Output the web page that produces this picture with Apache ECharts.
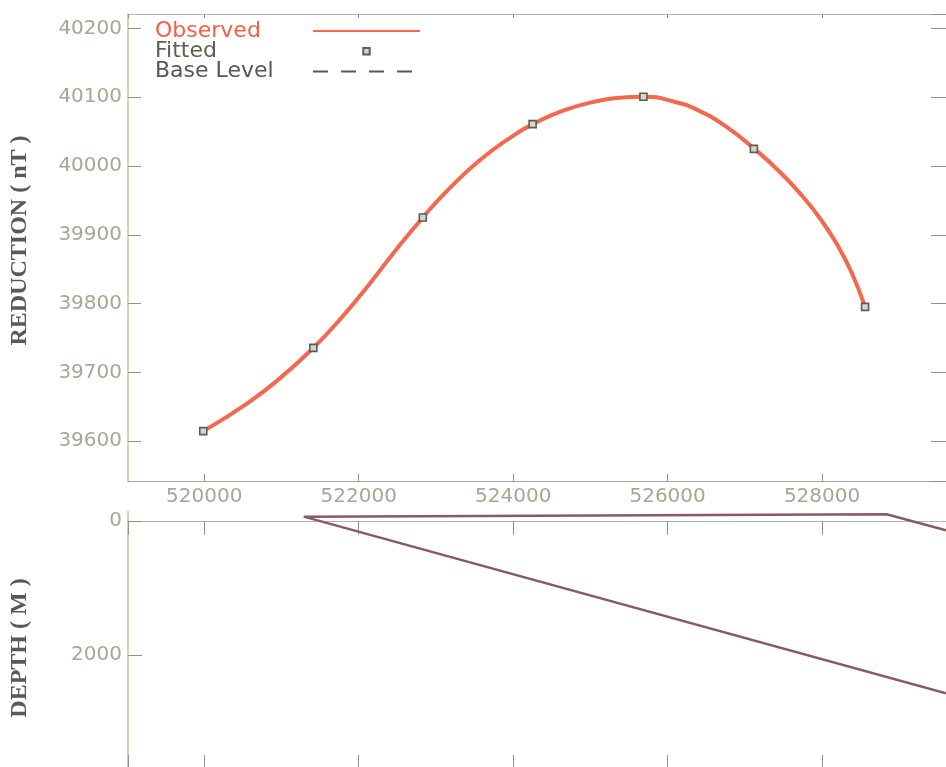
<!DOCTYPE html>
<html>
<head>
<meta charset="utf-8">
<script src="https://cdn.jsdelivr.net/npm/echarts@6/dist/echarts.min.js"></script>
<style>
  html, body { margin: 0; padding: 0; background: #fff; }
  #main { width: 946px; height: 767px; }
</style>
</head>
<body>
<div id="main"></div>
<script>
// observed anomaly
var observedX = [519987, 520567, 520996, 521412, 521769, 522113, 522456, 522830, 523144,
                 523574, 524003, 524253, 524647, 525077, 525378, 525687, 526065, 526409,
                 526753, 527118, 527440, 527740, 527998, 528213, 528384, 528557];
var observedY = [39614.5, 39655.7, 39693.0, 39735.6, 39778.4, 39824.9, 39874.3, 39925.2, 39963.9,
                 40009.0, 40044.3, 40060.9, 40080.5, 40094.2, 40099.2, 40100.7, 40094.2, 40080.2,
                 40057.7, 40025.5, 39992.8, 39956.9, 39920.0, 39882.3, 39844.7, 39795.2];

// fitted values (square markers)
var fittedX = [519987, 521412, 522830, 524252, 525687, 527117, 528557];
var fittedY = [39614.5, 39735.6, 39925.2, 40060.9, 40100.6, 40024.9, 39795.2];

// base level: listed in legend, no visible trace in this window
var baseLevel = [];

// body outline in the depth section
var bodyX = [529605, 528835, 521289, 529605];
var bodyDepth = [139, -99, -63, 2572];

var xMin = 519012, xMax = 529605;
var redMin = 39542, redMax = 40221;
var depthMin = -147, depthMax = 3670;

function pairs(xs, ys) {
    var out = [];
    for (var i = 0; i < xs.length; i++) out.push([xs[i], ys[i]]);
    return out;
}

function plain(v) {
    return String(v);
}

var chartDom = document.getElementById('main');
var myChart = echarts.init(chartDom, null, { renderer: 'canvas' });

var tickFont = { fontFamily: 'DejaVu Sans', fontSize: 20, color: '#a9a698', formatter: plain };
var legendKey = { 'Observed': 'obs', 'Fitted': 'fit', 'Base Level': 'base' };

function nameFont(pad) {
    return { fontFamily: 'Liberation Serif', fontWeight: 'bold', fontSize: 24, color: '#5a5858', padding: pad };
}

function richItem(color) {
    return { fontFamily: 'DejaVu Sans', fontSize: 22, lineHeight: 20, width: 153, align: 'left', color: color };
}

var option = {
    backgroundColor: '#ffffff',
    animation: false,
    grid: [
        { left: 126, top: 14, width: 822, height: 467 },
        { left: 126, top: 511, width: 822, height: 259 }
    ],
    legend: {
        orient: 'vertical',
        left: 155,
        top: 20,
        padding: 0,
        itemGap: -1.7,
        align: 'right',
        itemWidth: 107,
        itemHeight: 8,
        data: [
            { name: 'Observed', itemStyle: { opacity: 0 }, lineStyle: { width: 2 } },
            { name: 'Fitted' },
            { name: 'Base Level', itemStyle: { opacity: 0 } }
        ],
        formatter: function (name) {
            return '{' + legendKey[name] + '|' + name + '}';
        },
        textStyle: {
            fontFamily: 'DejaVu Sans',
            fontSize: 22,
            lineHeight: 20,
            rich: {
                obs: richItem('#f4604a'),
                fit: richItem('#5c6152'),
                base: richItem('#595558')
            }
        }
    },
    xAxis: [
        {
            type: 'value', gridIndex: 0, position: 'bottom', min: xMin, max: xMax,
            axisLine: { show: true, lineStyle: { color: '#a4a4a4', width: 1 } },
            axisTick: { show: true, inside: true, length: 7, lineStyle: { color: '#909090' } },
            axisLabel: Object.assign({ margin: 6, showMinLabel: false, showMaxLabel: false }, tickFont),
            splitLine: { show: false }
        },
        {
            type: 'value', gridIndex: 0, position: 'top', min: xMin, max: xMax,
            axisLine: { show: true, lineStyle: { color: '#b4b4b4', width: 1 } },
            axisTick: { show: true, inside: true, length: 4, lineStyle: { color: '#909090' } },
            axisLabel: { show: false },
            splitLine: { show: false }
        },
        {
            type: 'value', gridIndex: 1, position: 'top', min: xMin, max: xMax,
            axisLine: { show: true, lineStyle: { color: '#b4b4b4', width: 1 } },
            axisTick: { show: true, inside: true, length: 14, lineStyle: { color: '#909090' } },
            axisLabel: { show: false },
            splitLine: { show: false }
        },
        {
            type: 'value', gridIndex: 1, position: 'bottom', min: xMin, max: xMax,
            axisLine: { show: true, lineStyle: { color: '#a4a4a4', width: 1 } },
            axisTick: { show: true, inside: true, length: 12, lineStyle: { color: '#909090' } },
            axisLabel: { show: false },
            splitLine: { show: false }
        }
    ],
    yAxis: [
        {
            type: 'value', gridIndex: 0, position: 'left', min: redMin, max: redMax, splitNumber: 6,
            name: 'REDUCTION ( nT )', nameLocation: 'middle', nameGap: 96, nameTextStyle: nameFont([0, 0, 0, 14]),
            axisLine: { show: true, lineStyle: { color: '#c9c49c', width: 1.5 } },
            axisTick: { show: true, inside: true, length: 13, lineStyle: { color: '#909090' } },
            axisLabel: Object.assign({ margin: 6, showMinLabel: false, showMaxLabel: false }, tickFont),
            splitLine: { show: false }
        },
        {
            type: 'value', gridIndex: 0, position: 'right', min: redMin, max: redMax, splitNumber: 6,
            axisLine: { show: true, lineStyle: { color: '#a4a4a4', width: 1 } },
            axisTick: { show: true, inside: true, length: 15, lineStyle: { color: '#909090' } },
            axisLabel: { show: false },
            splitLine: { show: false }
        },
        {
            type: 'value', gridIndex: 1, position: 'left', inverse: true,
            min: depthMin, max: depthMax, splitNumber: 2,
            name: 'DEPTH ( M )', nameLocation: 'middle', nameGap: 96, nameTextStyle: nameFont([0, 18, 0, 0]),
            axisLine: { show: true, lineStyle: { color: '#c9c49c', width: 1.5 } },
            axisTick: { show: true, inside: true, length: 14, lineStyle: { color: '#909090' } },
            axisLabel: Object.assign({ margin: 6, showMinLabel: false, showMaxLabel: false }, tickFont),
            splitLine: { show: false }
        }
    ],
    series: [
        {
            name: 'Observed',
            type: 'line',
            xAxisIndex: 0, yAxisIndex: 0,
            data: pairs(observedX, observedY),
            smooth: 0.5,
            symbol: 'none',
            lineStyle: { color: '#f5684d', width: 4 },
            itemStyle: { color: '#f5684d' },
            z: 2
        },
        {
            name: 'Fitted',
            type: 'line',
            xAxisIndex: 0, yAxisIndex: 0,
            data: pairs(fittedX, fittedY),
            symbol: 'rect',
            symbolSize: 7,
            showSymbol: true,
            lineStyle: { opacity: 0, width: 0 },
            itemStyle: { color: '#d8d6cc', borderColor: '#5a5e56', borderWidth: 1.6 },
            z: 3
        },
        {
            name: 'Base Level',
            type: 'line',
            xAxisIndex: 0, yAxisIndex: 0,
            data: baseLevel,
            symbol: 'none',
            lineStyle: { color: '#5a5658', width: 2, type: [15, 13] },
            itemStyle: { color: '#5a5658' }
        },
        {
            name: 'Body',
            type: 'line',
            xAxisIndex: 2, yAxisIndex: 2,
            data: pairs(bodyX, bodyDepth),
            symbol: 'none',
            lineStyle: { color: '#8a5a60', width: 2.5 },
            itemStyle: { color: '#8a5a60' }
        }
    ]
};

option && myChart.setOption(option);
</script>
</body>
</html>
